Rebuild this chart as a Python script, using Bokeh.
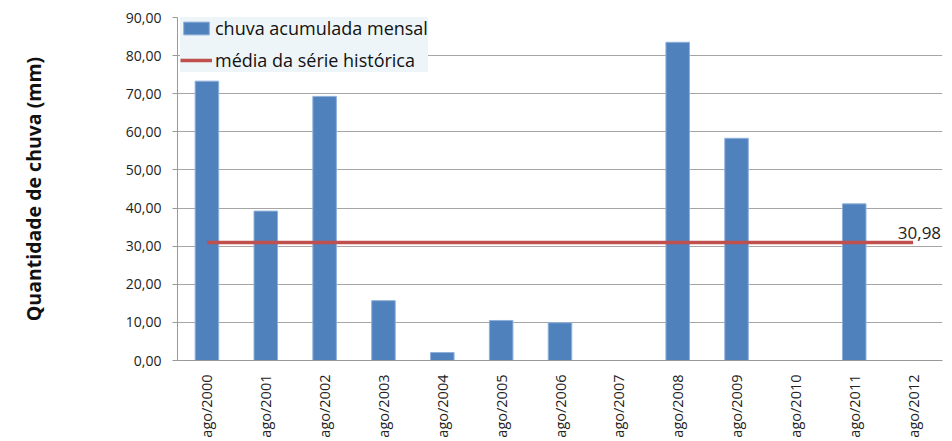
from bokeh.plotting import figure
from bokeh.models import FactorRange, Range1d, CustomJSTickFormatter, FixedTicker, Legend, LegendItem
from bokeh.core.properties import value
from bokeh.embed import file_html
from bokeh.resources import INLINE

categories = ["ago/2000", "ago/2001", "ago/2002", "ago/2003", "ago/2004", "ago/2005",
              "ago/2006", "ago/2007", "ago/2008", "ago/2009", "ago/2010", "ago/2011", "ago/2012"]
chuva = [73.3, 39.2, 69.3, 15.7, 2.1, 10.5, 9.9, 0.0, 83.5, 58.3, 0.0, 41.1, 0.0]
media = 30.98
y_ticks = [0, 10, 20, 30, 40, 50, 60, 70, 80, 90]

FONT = "Open Sans"

p = figure(width=944, height=440, output_backend="svg", toolbar_location=None,
           x_range=FactorRange(factors=categories, range_padding=0),
           y_range=Range1d(0, 90),
           min_border_left=177, min_border_right=2, min_border_top=17, min_border_bottom=79)
p.outline_line_color = None
p.background_fill_color = "white"

bars = p.vbar(x=categories, top=chuva, width=0.4, fill_color="#4F81BD",
              line_color="#8FB0DA", line_width=1)
line = p.line(x=categories, y=[media] * len(categories), line_color="#C0504D", line_width=3.5)
p.text(x=[categories[-1]], y=[media], text=[f"{media:.2f}".replace(".", ",")],
       text_font=value(FONT), text_font_size="17px", text_color="#222222",
       text_align="right", text_baseline="bottom", x_offset=28, y_offset=-3)

# y axis
p.yaxis.ticker = FixedTicker(ticks=y_ticks)
p.yaxis.formatter = CustomJSTickFormatter(code="return tick.toFixed(2).replace('.', ',');")
p.yaxis.axis_line_color = "#999999"
p.yaxis.major_tick_line_color = "#999999"
p.yaxis.major_tick_out = 5
p.yaxis.major_tick_in = 0
p.yaxis.minor_tick_line_color = None
p.yaxis.major_label_standoff = 11
p.yaxis.major_label_text_font = FONT
p.yaxis.major_label_text_font_size = "14px"
p.yaxis.major_label_text_color = "#222222"
p.yaxis.axis_label = "Quantidade de chuva (mm)"
p.yaxis.axis_label_text_font = FONT
p.yaxis.axis_label_text_font_size = "19.5px"
p.yaxis.axis_label_text_font_style = "bold"
p.yaxis.axis_label_text_color = "#111111"
p.yaxis.axis_label_standoff = 76

# x axis
p.xaxis.axis_line_color = "#999999"
p.xaxis.major_tick_line_color = None
p.xaxis.minor_tick_line_color = None
p.xaxis.major_label_orientation = 1.5708
p.xaxis.major_label_standoff = 8
p.xaxis.major_label_text_font = FONT
p.xaxis.major_label_text_font_size = "14.5px"
p.xaxis.major_label_text_color = "#222222"

p.xgrid.grid_line_color = None
p.ygrid.grid_line_color = "#A6A6A6"
p.ygrid.ticker = FixedTicker(ticks=y_ticks)

legend = Legend(items=[LegendItem(label="chuva acumulada mensal", renderers=[bars]),
                       LegendItem(label="média da série histórica", renderers=[line])],
                location=(3, 288))
legend.background_fill_color = "#EEF5F8"
legend.background_fill_alpha = 1.0
legend.border_line_color = None
legend.label_text_font = FONT
legend.label_text_font_size = "18px"
legend.label_text_color = "#111111"
legend.glyph_width = 32
legend.glyph_height = 16
legend.label_standoff = 3
legend.spacing = 8
legend.padding = 5
legend.margin = 0
p.add_layout(legend, "center")

open("out.html", "w").write(file_html(p, INLINE))
